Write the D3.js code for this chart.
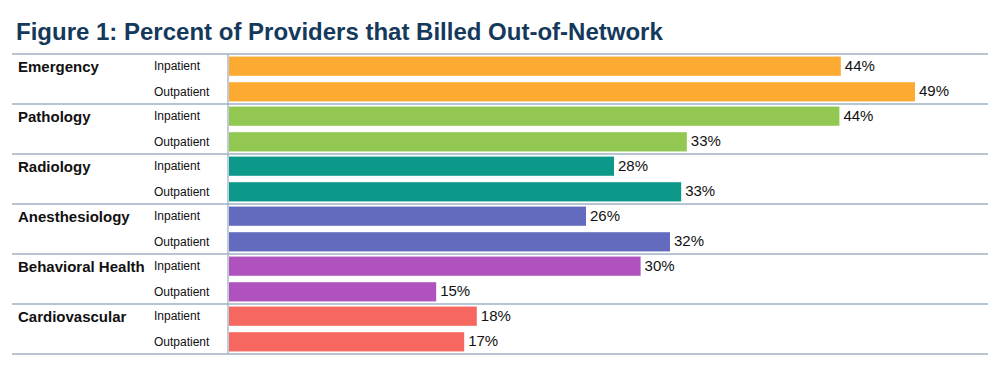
<!DOCTYPE html>
<html><head><meta charset="utf-8">
<script src="https://cdn.jsdelivr.net/npm/d3@7"></script>
<style>body{margin:0;background:#fff}svg text{font-family:"Liberation Sans",Arial,sans-serif}</style>
</head><body><svg id="c" width="1000" height="390"></svg>
<script>
const categories = ["Emergency","Pathology","Radiology","Anesthesiology","Behavioral Health","Cardiovascular"];
const settings = ["Inpatient","Outpatient"];
const inpatient = [43.7, 43.6, 27.5, 25.5, 29.4, 17.7];
const outpatient = [49.0, 32.7, 32.3, 31.5, 14.8, 16.8];
const inpatientLabels = ["44%","44%","28%","26%","30%","18%"];
const outpatientLabels = ["49%","33%","33%","32%","15%","17%"];
const colors = ["#FDAA33","#92C852","#0C998A","#626BBD","#AF52BE","#F5675F"];

const svg = d3.select("#c");
const leftX = 229, topY = 54, groupH = 50, rightX = 988;
const x = d3.scaleLinear().domain([0, 49]).range([leftX, 915]);
const yG = d3.scaleBand().domain(categories).range([topY, topY + groupH*categories.length]);
const yS = d3.scaleBand().domain(settings).range([0, groupH]).paddingInner(0.25).paddingOuter(0.1);

svg.append("text").attr("x", 16).attr("y", 40).text("Figure 1: Percent of Providers that Billed Out-of-Network")
  .attr("font-size", 24).attr("font-weight", "bold").attr("fill", "#15395B");

const rows = [];
categories.forEach((c, i) => {
  rows.push({c, s: "Inpatient", v: inpatient[i], l: inpatientLabels[i], col: colors[i]});
  rows.push({c, s: "Outpatient", v: outpatient[i], l: outpatientLabels[i], col: colors[i]});
});

svg.selectAll("rect.bar").data(rows).join("rect").attr("class","bar")
  .attr("x", x(0)).attr("y", d => yG(d.c) + yS(d.s))
  .attr("width", d => x(d.v) - x(0)).attr("height", yS.bandwidth()).attr("fill", d => d.col);

svg.selectAll("text.val").data(rows).join("text").attr("class","val")
  .attr("x", d => x(d.v) + 4).attr("y", d => yG(d.c) + yS(d.s) + yS.bandwidth()/2 - 1)
  .attr("dy", "0.36em").attr("font-size", 15).attr("fill", "#111").text(d => d.l);

svg.selectAll("text.sub").data(rows).join("text").attr("class","sub")
  .attr("x", 154).attr("y", d => yG(d.c) + yS(d.s) + yS.bandwidth()/2 - 0.5)
  .attr("dy", "0.36em").attr("font-size", 12).attr("fill", "#111").text(d => d.s);

svg.selectAll("text.cat").data(categories).join("text").attr("class","cat")
  .attr("x", 18).attr("y", d => yG(d) + yS("Inpatient") + yS.bandwidth()/2)
  .attr("dy", "0.36em").attr("font-size", 15).attr("font-weight","bold").attr("fill", "#111").text(d => d);

const lines = categories.map(c => yG(c)).concat([topY + groupH*categories.length]);
svg.selectAll("line.sep").data(lines).join("line").attr("class","sep")
  .attr("x1", 12).attr("x2", rightX).attr("y1", d => d).attr("y2", d => d)
  .attr("stroke", "#9FB0C3").attr("stroke-width", 1.3);
svg.append("line").attr("x1", 228).attr("x2", 228).attr("y1", topY).attr("y2", topY + groupH*categories.length)
  .attr("stroke", "#9FB0C3").attr("stroke-width", 1.3);
</script></body></html>
